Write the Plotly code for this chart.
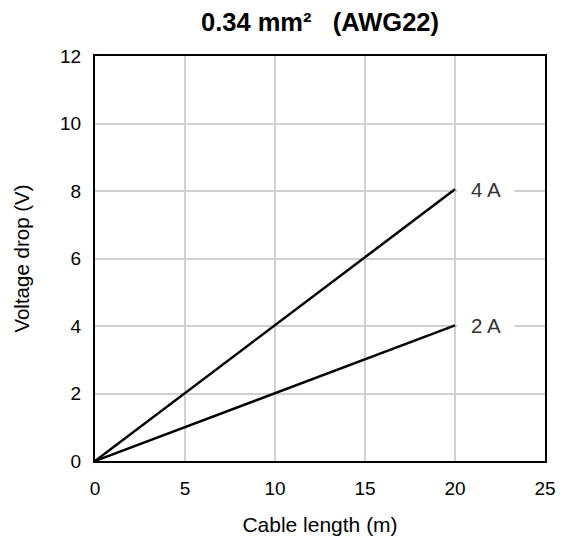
import plotly.graph_objects as go

length_m = [0, 20]
drop_4a = [0, 8.05]
drop_2a = [0, 4.02]
series_labels = ["4 A", "2 A"]
x_ticks = [0, 5, 10, 15, 20, 25]
y_ticks = [0, 2, 4, 6, 8, 10, 12]

font_family = "Liberation Sans, Arial, sans-serif"

fig = go.Figure()
for ys, name in [(drop_4a, series_labels[0]), (drop_2a, series_labels[1])]:
    fig.add_trace(go.Scatter(x=length_m, y=ys, mode="lines", name=name,
                             line=dict(color="black", width=2.5), showlegend=False))
    fig.add_annotation(x=length_m[-1], y=ys[-1], text=name,
                       xanchor="left", yanchor="middle", showarrow=False,
                       xshift=2, bgcolor="white", borderpad=13,
                       font=dict(size=20.5, color="#333", family=font_family))

fig.update_layout(
    width=559, height=534,
    margin=dict(l=87, r=22, t=48, b=81, autoexpand=False),
    paper_bgcolor="white", plot_bgcolor="white",
    font=dict(family=font_family, color="black"),
    title=dict(text="<b>0.34 mm²\u00a0\u00a0\u00a0(AWG22)</b>", x=0.5, xref="paper", xanchor="center",
               y=1 - 14 / 534, yanchor="middle", font=dict(size=25.5, color="black")),
)
fig.update_xaxes(range=[0, 25], tickvals=x_ticks, showgrid=True, gridcolor="#d0d0d0", gridwidth=2,
                 showline=True, linecolor="black", linewidth=2, mirror=True, zeroline=False,
                 automargin=False,
                 ticks="", tickfont=dict(size=19), ticklabelstandoff=9,
                 title=dict(text="Cable length (m)", font=dict(size=21), standoff=20))
fig.update_yaxes(range=[0, 12], tickvals=y_ticks, showgrid=True, gridcolor="#d0d0d0", gridwidth=2,
                 showline=True, linecolor="black", linewidth=2, mirror=True, zeroline=False,
                 automargin=False,
                 ticks="", tickfont=dict(size=19), ticklabelstandoff=8,
                 title=dict(text="Voltage drop (V)", font=dict(size=20.5), standoff=25))

fig.write_html("out.html")
